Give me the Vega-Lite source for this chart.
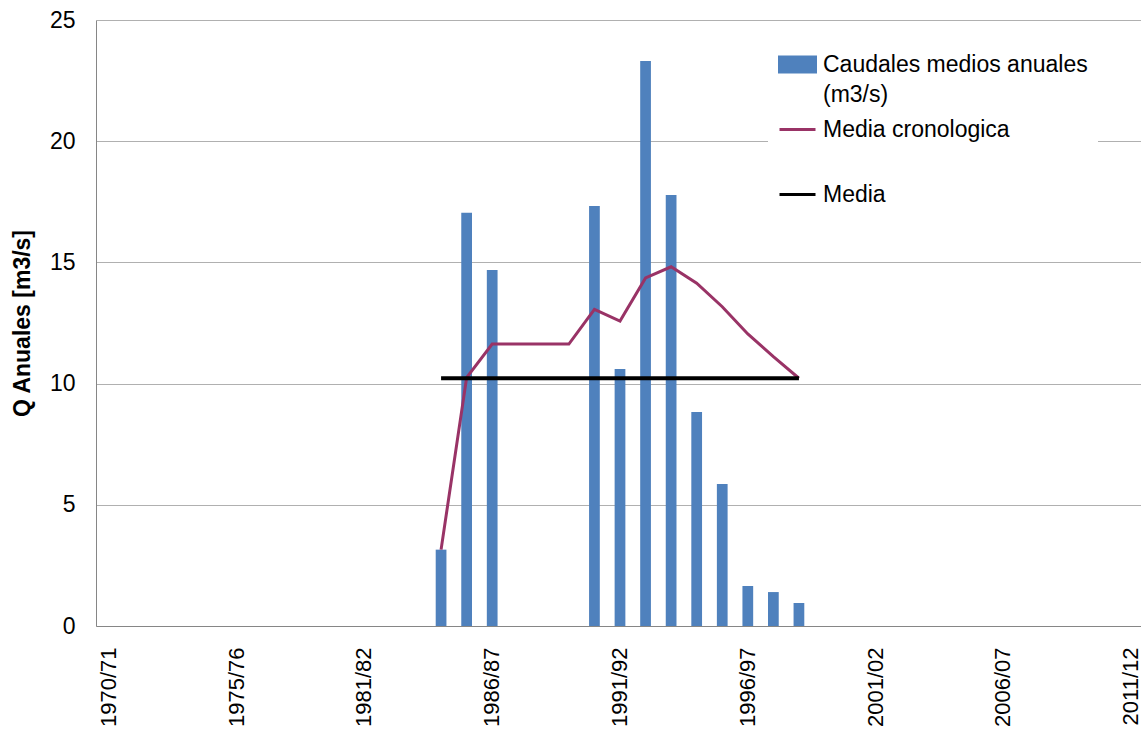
{
  "$schema": "https://vega.github.io/schema/vega-lite/v6.json",
  "width": 1048,
  "height": 606,
  "autosize": {"type": "none"},
  "padding": {"left": 96, "top": 20, "right": 0, "bottom": 112},
  "background": "white",
  "config": {
    "font": "Liberation Sans",
    "view": {"stroke": null},
    "axis": {"labelColor": "black", "titleColor": "black", "ticks": false, "domainColor": "#868686", "domainWidth": 1}
  },
  "data": {
    "values": [
      {"year": "1970/71", "q": null, "mc": null, "media": null},
      {"year": "1971/72", "q": null, "mc": null, "media": null},
      {"year": "1972/73", "q": null, "mc": null, "media": null},
      {"year": "1973/74", "q": null, "mc": null, "media": null},
      {"year": "1974/75", "q": null, "mc": null, "media": null},
      {"year": "1975/76", "q": null, "mc": null, "media": null},
      {"year": "1976/77", "q": null, "mc": null, "media": null},
      {"year": "1977/78", "q": null, "mc": null, "media": null},
      {"year": "1978/79", "q": null, "mc": null, "media": null},
      {"year": "1979/80", "q": null, "mc": null, "media": null},
      {"year": "1981/82", "q": null, "mc": null, "media": null},
      {"year": "1982/83", "q": null, "mc": null, "media": null},
      {"year": "1983/84", "q": null, "mc": null, "media": null},
      {"year": "1984/85", "q": 3.15, "mc": 3.15, "media": 10.22},
      {"year": "1985/86", "q": 17.05, "mc": 10.25, "media": 10.22},
      {"year": "1986/87", "q": 14.69, "mc": 11.63, "media": 10.22},
      {"year": "1987/88", "q": null, "mc": 11.63, "media": 10.22},
      {"year": "1988/89", "q": null, "mc": 11.63, "media": 10.22},
      {"year": "1989/90", "q": null, "mc": 11.63, "media": 10.22},
      {"year": "1990/91", "q": 17.33, "mc": 13.06, "media": 10.22},
      {"year": "1991/92", "q": 10.6, "mc": 12.58, "media": 10.22},
      {"year": "1992/93", "q": 23.31, "mc": 14.36, "media": 10.22},
      {"year": "1993/94", "q": 17.78, "mc": 14.82, "media": 10.22},
      {"year": "1994/95", "q": 8.83, "mc": 14.14, "media": 10.22},
      {"year": "1995/96", "q": 5.86, "mc": 13.17, "media": 10.22},
      {"year": "1996/97", "q": 1.65, "mc": 12.05, "media": 10.22},
      {"year": "1997/98", "q": 1.4, "mc": 11.11, "media": 10.22},
      {"year": "1998/99", "q": 0.95, "mc": 10.22, "media": 10.22},
      {"year": "1999/00", "q": null, "mc": null, "media": null},
      {"year": "2000/01", "q": null, "mc": null, "media": null},
      {"year": "2001/02", "q": null, "mc": null, "media": null},
      {"year": "2002/03", "q": null, "mc": null, "media": null},
      {"year": "2003/04", "q": null, "mc": null, "media": null},
      {"year": "2004/05", "q": null, "mc": null, "media": null},
      {"year": "2005/06", "q": null, "mc": null, "media": null},
      {"year": "2006/07", "q": null, "mc": null, "media": null},
      {"year": "2007/08", "q": null, "mc": null, "media": null},
      {"year": "2008/09", "q": null, "mc": null, "media": null},
      {"year": "2009/10", "q": null, "mc": null, "media": null},
      {"year": "2010/11", "q": null, "mc": null, "media": null},
      {"year": "2011/12", "q": null, "mc": null, "media": null}
    ]
  },
  "encoding": {
    "x": {
      "field": "year",
      "type": "ordinal",
      "sort": null,
      "scale": {
        "domain": ["1970/71", "1971/72", "1972/73", "1973/74", "1974/75", "1975/76", "1976/77", "1977/78", "1978/79", "1979/80", "1981/82", "1982/83", "1983/84", "1984/85", "1985/86", "1986/87", "1987/88", "1988/89", "1989/90", "1990/91", "1991/92", "1992/93", "1993/94", "1994/95", "1995/96", "1996/97", "1997/98", "1998/99", "1999/00", "2000/01", "2001/02", "2002/03", "2003/04", "2004/05", "2005/06", "2006/07", "2007/08", "2008/09", "2009/10", "2010/11", "2011/12"],
        "paddingInner": 0.58,
        "paddingOuter": 0.29
      },
      "axis": {
        "title": null,
        "values": ["1970/71", "1975/76", "1981/82", "1986/87", "1991/92", "1996/97", "2001/02", "2006/07", "2011/12"],
        "labelAngle": -90,
        "labelFontSize": 22,
        "labelPadding": 21,
        "labelBaseline": "middle",
        "labelAlign": "right",
        "grid": false
      }
    }
  },
  "layer": [
    {
      "mark": {"type": "bar"},
      "encoding": {
        "y": {
          "field": "q",
          "type": "quantitative",
          "scale": {"domain": [0, 25], "nice": false},
          "axis": {
            "title": "Q Anuales [m3/s]",
            "titleFontSize": 23,
            "titleFontWeight": "bold",
            "titlePadding": 15,
            "values": [0, 5, 10, 15, 20, 25],
            "labelFontSize": 23,
            "labelPadding": 21,
            "grid": true,
            "gridColor": "#B0B0B0",
            "gridWidth": 1
          }
        },
        "color": {
          "datum": "Caudales medios anuales (m3/s)",
          "type": "nominal",
          "scale": {
            "domain": ["Caudales medios anuales (m3/s)", "Media cronologica", "Media"],
            "range": ["#4F81BD", "#993366", "#000000"]
          },
          "legend": {
            "orient": "none",
            "legendX": 672,
            "legendY": 15,
            "direction": "vertical",
            "title": null,
            "fillColor": "white",
            "padding": 10,
            "labelFontSize": 23,
            "labelColor": "black",
            "labelLimit": 0,
            "labelOffset": 6,
            "symbolSize": 1296,
            "symbolStrokeWidth": 3,
            "rowPadding": 3,
            "gridAlign": "all",
            "labelExpr": "datum.label == 'Caudales medios anuales (m3/s)' ? ['Caudales medios anuales', '(m3/s)'] : [datum.label, '']",
            "encode": {
              "symbols": {
                "update": {
                  "shape": {"signal": "datum.value == 'Caudales medios anuales (m3/s)' ? 'M-1,-0.42H1V0.42H-1Z' : 'M-1,0H1'"},
                  "fill": {"signal": "datum.value == 'Caudales medios anuales (m3/s)' ? '#4F81BD' : 'transparent'"},
                  "stroke": {"signal": "datum.value == 'Media' ? '#000000' : (datum.value == 'Media cronologica' ? '#993366' : 'transparent')"},
                  "strokeWidth": {"value": 3},
                  "opacity": {"value": 1}
                }
              },
              "labels": {
                "update": {"lineHeight": {"value": 30}}
              }
            }
          }
        }
      }
    },
    {
      "mark": {"type": "line", "strokeWidth": 3},
      "encoding": {
        "y": {"field": "mc", "type": "quantitative"},
        "color": {"datum": "Media cronologica", "type": "nominal"}
      }
    },
    {
      "mark": {"type": "line", "strokeWidth": 4},
      "encoding": {
        "y": {"field": "media", "type": "quantitative"},
        "color": {"datum": "Media", "type": "nominal"}
      }
    }
  ]
}
